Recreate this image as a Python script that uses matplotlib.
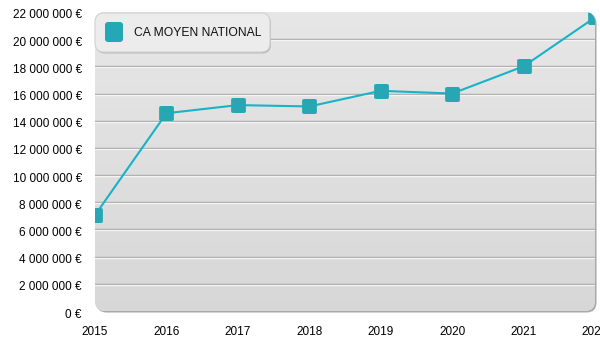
import numpy as np
import matplotlib
matplotlib.use("Agg")
import matplotlib.pyplot as plt
from matplotlib.patches import FancyBboxPatch
from matplotlib.markers import MarkerStyle
from matplotlib.ticker import FuncFormatter
import matplotlib.transforms as mtransforms

plt.rcParams['font.family'] = ['Liberation Sans', 'DejaVu Sans']

years = [2015, 2016, 2017, 2018, 2019, 2020, 2021, 2022]
ca_moyen = [7050000, 14550000, 15150000, 15050000, 16200000, 16000000, 18000000, 21600000]
y_ticks = list(range(0, 22000001, 2000000))
series_label = "CA MOYEN NATIONAL"

W, H, DPI = 600, 350, 100
fig = plt.figure(figsize=(W / DPI, H / DPI), dpi=DPI)
fig.patch.set_facecolor('white')

# plot area in pixels (left, bottom, right, top from the bottom edge)
L, B, R, T = 95, 39, 595, 338
ax = fig.add_axes([L / W, B / H, (R - L) / W, (T - B) / H])
ax.set_xlim(years[0], years[-1])
ax.set_ylim(0, 22000000)
ax.patch.set_visible(False)
for s in ax.spines.values():
    s.set_visible(False)

ident = mtransforms.IdentityTransform()


def add_box(xy, w, h, r, fc, ec='none', lw=0, z=0):
    p = FancyBboxPatch(xy, w, h, boxstyle=f"round,pad=0,rounding_size={r}",
                       transform=ident, facecolor=fc, edgecolor=ec, lw=lw,
                       zorder=z)
    p.set_clip_on(False)
    ax.add_artist(p)
    return p


# drop shadow / border of the panel, then the panel itself
add_box((L + 1.5, B - 1.5), R - L, T - B, 10, '#a9a9a9', z=0.1)
panel = add_box((L, B), R - L, T - B, 10, '#e0e0e0', z=0.2)

# vertical gradient filling the panel
grad = np.linspace(0, 1, 256).reshape(-1, 1)
top_c = np.array([0.905, 0.905, 0.905])
bot_c = np.array([0.845, 0.845, 0.845])
img = top_c * (1 - grad[..., None]) + bot_c * grad[..., None]
im = ax.imshow(img, extent=[0, 1, 0, 1], transform=ax.transAxes,
               aspect='auto', zorder=0.3, interpolation='bilinear')
im.set_clip_path(panel)

# embossed horizontal grid lines
ytrans = ax.get_yaxis_transform()
down = mtransforms.ScaledTranslation(0, -1 / DPI, fig.dpi_scale_trans)
for v in y_ticks[1:-1]:
    ax.plot([0, 1], [v, v], color='#a2a2a2', lw=1.0, zorder=1,
            transform=ytrans)
    ax.plot([0, 1], [v, v], color='#f4f4f4', lw=1.0, zorder=1,
            transform=ytrans + down)

# data line with rounded square markers
mk = MarkerStyle('s', joinstyle='round')
line, = ax.plot(years, ca_moyen, color='#17b3c7', lw=1.5, zorder=3,
                marker=mk, markersize=8, markerfacecolor='#27a7b4',
                markeredgecolor='#27a7b4', markeredgewidth=2.0)
line.set_clip_path(panel)

# axes ticks and labels
ax.set_xticks(years)
ax.set_yticks(y_ticks)
ax.yaxis.set_major_formatter(FuncFormatter(
    lambda v, p: (f"{int(v):,}".replace(",", " ") + " €")))
ax.tick_params(axis='both', length=0, labelsize=8.5, colors='black')
ax.tick_params(axis='y', pad=9.5)
ax.tick_params(axis='x', pad=11)

# nudge y labels slightly below their grid lines
shift = mtransforms.ScaledTranslation(0, -2 / DPI, fig.dpi_scale_trans)
for lab in ax.get_yticklabels():
    lab.set_transform(lab.get_transform() + shift)

# legend box
lg_x0, lg_y0, lg_x1, lg_y1 = 95, 350 - 52, 270, 350 - 13
add_box((lg_x0 + 1, lg_y0 - 1.5), lg_x1 - lg_x0, lg_y1 - lg_y0, 9,
        '#b9b9b9', z=4)
add_box((lg_x0, lg_y0), lg_x1 - lg_x0, lg_y1 - lg_y0, 9,
        '#ececec', ec='#d2d2d2', lw=0.8, z=5)
add_box((105, 350 - 42), 18, 20, 3, '#25a8b5', z=6)
ax.text(134, 350 - 32.5, series_label, fontsize=8.7, transform=ident,
        va='center', ha='left', color='#111111', zorder=7)

fig.savefig("out.png", dpi=DPI)
